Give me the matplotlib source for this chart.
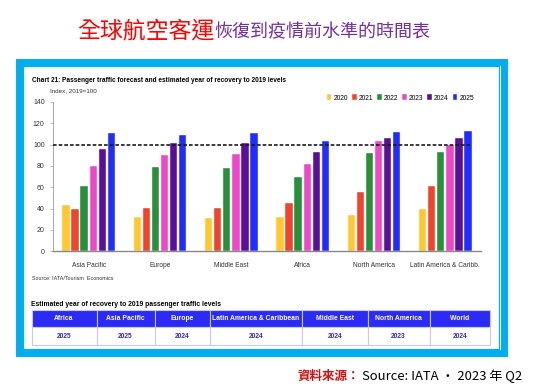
import numpy as np
import matplotlib.pyplot as plt
from matplotlib.patches import Rectangle

# Chart data
regions = ["Asia Pacific", "Europe", "Middle East", "Africa", "North America", "Latin America & Caribb."]
years = ["2020", "2021", "2022", "2023", "2024", "2025"]
v2020 = [43, 32, 31, 32.5, 34, 40]
v2021 = [39.5, 41, 41, 45, 56, 61]
v2022 = [61, 79, 78, 69.5, 92, 93]
v2023 = [80, 90, 91, 82, 103, 100]
v2024 = [96, 102, 102, 93, 106.5, 106.5]
v2025 = [110.5, 109.5, 110.5, 103, 111.5, 112.5]
colors = ["#FFC82E", "#F2432F", "#27913A", "#EE48C8", "#590F9A", "#1F2DFF"]

# recovery table
tbl_regions = ["Africa", "Asia Pacific", "Europe", "Latin America & Caribbean",
               "Middle East", "North America", "World"]
tbl_years = ["2025", "2025", "2024", "2024", "2024", "2023", "2024"]
col_edges = [31.5, 96.5, 154.5, 209.5, 302, 367.5, 429.5, 490]

W, H = 538, 390
fig = plt.figure(figsize=(W / 100, H / 100), dpi=100)

narrow = ["Liberation Sans", "DejaVu Sans"]
cjk = ["Noto Sans CJK TC", "DejaVu Sans"]

# overlay in pixel coordinates
bg = fig.add_axes([0, 0, 1, 1])
bg.set_xlim(0, W)
bg.set_ylim(H, 0)
bg.axis("off")

# cyan frame
bg.add_patch(Rectangle((18.5, 61.5), 485, 291, fill=False, ec="#00AEEF", lw=5))
bg.add_patch(Rectangle((22.5, 65.5), 476, 283, fill=False, ec="#00AEEF", lw=0.8))

# main title
bg.text(214, 31, "全球航空客運", ha="right", va="center", color="#FF0000",
        fontsize=16.5, family=cjk)
bg.text(214, 32, "恢復到疫情前水準的時間表", ha="left", va="center", color="#7030A0",
        fontsize=13, family=cjk)

bg.text(32, 80, "Chart 21: Passenger traffic forecast and estimated year of recovery to 2019 levels",
        ha="left", va="center", fontsize=4.7, fontweight="bold", family=narrow)
bg.text(50, 91, "Index, 2019=100", ha="left", va="center", fontsize=4.5, color="#333333",
        family=narrow)
bg.text(32, 278, "Source: IATA/Tourism  Economics", ha="left", va="center", fontsize=3.9,
        color="#333333", family=narrow)

# table
bg.text(31, 304, "Estimated year of recovery to 2019 passenger traffic levels",
        ha="left", va="center", fontsize=4.9, fontweight="bold", family=narrow)
for i, (name, yr) in enumerate(zip(tbl_regions, tbl_years)):
    x0, x1 = col_edges[i], col_edges[i + 1]
    bg.add_patch(Rectangle((x0, 310), x1 - x0, 17, fc="#2B2BF5", ec="#C8C8F5", lw=0.8))
    bg.add_patch(Rectangle((x0, 327), x1 - x0, 18, fc="white", ec="#C8C8F5", lw=0.8))
    bg.text((x0 + x1) / 2, 318.5, name, ha="center", va="center", color="white",
            fontsize=4.9, fontweight="bold", family=narrow)
    bg.text((x0 + x1) / 2, 336.5, yr, ha="center", va="center", color="#2B2BD0",
            fontsize=4.8, fontweight="bold", family=narrow)

# footer
bg.text(297, 376, "資料來源：", ha="left", va="center", color="#CC1111",
        fontsize=9, fontweight="bold", family=cjk)
bg.text(362, 376, "Source: IATA · 2023 年 Q2", ha="left", va="center", color="black",
        fontsize=9.4, family=cjk)

# bar chart
ax = fig.add_axes([53 / W, 1 - 251.3 / H, (481 - 53) / W, (251.3 - 102) / H])
series = [v2020, v2021, v2022, v2023, v2024, v2025]
x = np.arange(len(regions))
slot = 0.127
bw = 0.102
for k, (vals, c) in enumerate(zip(series, colors)):
    ax.bar(x + (k - 2.5) * slot, vals, width=bw, color=c, label=years[k],
           edgecolor="white", linewidth=0.3, zorder=2)

ax.axhline(100, xmin=0, xmax=(5.35 + 0.5) / 6, color="#1a1a1a", ls=(0, (2.2, 1.2)),
           lw=1.2, zorder=3)
ax.set_xlim(-0.5, 5.5)
ax.set_ylim(0, 140)
ax.set_yticks(np.arange(0, 141, 20))
ax.set_xticks(x)
ax.set_xticklabels(regions)
for s in ["top", "right"]:
    ax.spines[s].set_visible(False)
ax.spines["left"].set_color("#999999")
ax.spines["left"].set_linewidth(0.6)
ax.spines["bottom"].set_color("#888888")
ax.spines["bottom"].set_linewidth(1.0)
ax.tick_params(axis="y", labelsize=5, colors="#333333", length=2, width=0.5, pad=4)
ax.tick_params(axis="x", labelsize=4.8, colors="#333333", length=0, pad=8)
ax.tick_params(axis="y", color="#999999")
for lab in ax.get_xticklabels() + ax.get_yticklabels():
    lab.set_family(narrow)

leg = ax.legend(ncol=6, loc="lower right", bbox_to_anchor=(0.99, 0.985), frameon=False,
                prop={"family": narrow, "size": 4.8},
                handlelength=0.7, handleheight=1.0,
                handletextpad=0.3, columnspacing=0.6, borderaxespad=0)

fig.savefig("out.png", dpi=100)
